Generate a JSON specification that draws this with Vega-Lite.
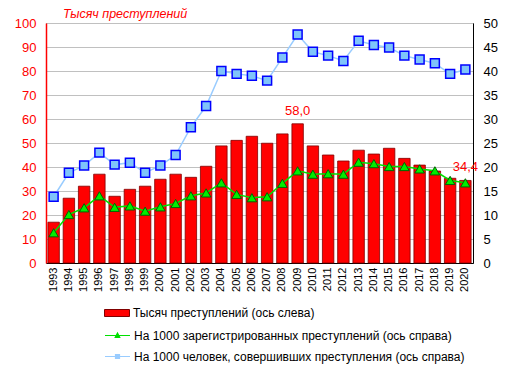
{
  "$schema": "https://vega.github.io/schema/vega-lite/v6.json",
  "autosize": "none",
  "width": 427,
  "height": 240,
  "padding": {"left": 46, "top": 23, "right": 39, "bottom": 111},
  "background": "white",
  "config": {
    "font": "Liberation Sans",
    "view": {"stroke": "#808080", "strokeWidth": 1},
    "locale": {"number": {"decimal": ",", "thousands": " ", "grouping": [3], "currency": ["", ""]}},
    "legend": {"padding": 0, "labelFont": "Liberation Sans", "labelFontSize": 12, "labelColor": "#000000", "labelOffset": 3, "labelLimit": 500}
  },
  "title": {
    "text": "Тысяч преступлений",
    "anchor": "start",
    "frame": "group",
    "dx": 17,
    "offset": -3,
    "font": "Liberation Sans",
    "fontSize": 12.5,
    "fontStyle": "italic",
    "fontWeight": "normal",
    "color": "#FF0000"
  },
  "data": {
    "values": [
      {"year": "1993", "crimes": 17.0, "per_reg": 6.3, "per_person": 13.8},
      {"year": "1994", "crimes": 27.0, "per_reg": 10.1, "per_person": 18.8},
      {"year": "1995", "crimes": 32.0, "per_reg": 11.5, "per_person": 20.3},
      {"year": "1996", "crimes": 37.0, "per_reg": 14.0, "per_person": 23.0},
      {"year": "1997", "crimes": 27.8, "per_reg": 11.6, "per_person": 20.5},
      {"year": "1998", "crimes": 30.7, "per_reg": 11.9, "per_person": 20.9},
      {"year": "1999", "crimes": 32.0, "per_reg": 10.8, "per_person": 18.8},
      {"year": "2000", "crimes": 34.9, "per_reg": 11.7, "per_person": 20.3},
      {"year": "2001", "crimes": 37.0, "per_reg": 12.4, "per_person": 22.5},
      {"year": "2002", "crimes": 35.7, "per_reg": 14.0, "per_person": 28.3},
      {"year": "2003", "crimes": 40.3, "per_reg": 14.6, "per_person": 32.7},
      {"year": "2004", "crimes": 48.8, "per_reg": 16.7, "per_person": 40.0},
      {"year": "2005", "crimes": 51.1, "per_reg": 14.3, "per_person": 39.4},
      {"year": "2006", "crimes": 52.8, "per_reg": 13.6, "per_person": 39.0},
      {"year": "2007", "crimes": 49.9, "per_reg": 13.8, "per_person": 38.0},
      {"year": "2008", "crimes": 53.8, "per_reg": 16.6, "per_person": 42.8},
      {"year": "2009", "crimes": 58.0, "per_reg": 19.2, "per_person": 47.6},
      {"year": "2010", "crimes": 48.8, "per_reg": 18.5, "per_person": 44.0},
      {"year": "2011", "crimes": 45.0, "per_reg": 18.6, "per_person": 43.2},
      {"year": "2012", "crimes": 42.5, "per_reg": 18.5, "per_person": 42.1},
      {"year": "2013", "crimes": 47.0, "per_reg": 21.0, "per_person": 46.3},
      {"year": "2014", "crimes": 45.4, "per_reg": 20.7, "per_person": 45.4},
      {"year": "2015", "crimes": 47.8, "per_reg": 20.1, "per_person": 44.9},
      {"year": "2016", "crimes": 43.6, "per_reg": 20.1, "per_person": 43.2},
      {"year": "2017", "crimes": 40.8, "per_reg": 19.6, "per_person": 42.4},
      {"year": "2018", "crimes": 38.3, "per_reg": 19.2, "per_person": 41.6},
      {"year": "2019", "crimes": 35.3, "per_reg": 17.2, "per_person": 39.4},
      {"year": "2020", "crimes": 34.4, "per_reg": 16.7, "per_person": 40.3}
    ]
  },
  "encoding": {
    "x": {
      "field": "year",
      "type": "ordinal",
      "scale": {"paddingInner": 0.25, "paddingOuter": 0.125},
      "axis": {
        "title": null,
        "labelAngle": -90,
        "labelFontSize": 11,
        "labelColor": "#000000",
        "labelPadding": 4,
        "ticks": false,
        "domainColor": "#000000",
        "domainWidth": 1
      }
    }
  },
  "layer": [
    {
      "encoding": {
        "y": {
          "field": "crimes",
          "type": "quantitative",
          "scale": {"domain": [0, 100], "nice": false},
          "axis": {
            "title": null,
            "values": [0, 10, 20, 30, 40, 50, 60, 70, 80, 90, 100],
            "labelOverlap": false,
            "labelColor": "#FF0000",
            "labelFontSize": 13,
            "labelPadding": 10,
            "ticks": false,
            "domainColor": "#FF0000",
            "domainWidth": 1.5,
            "gridColor": "#C0C0C0",
            "gridWidth": 1
          }
        }
      },
      "layer": [
        {
          "mark": {"type": "bar", "stroke": "#800000", "strokeWidth": 0.8},
          "encoding": {
            "color": {
              "datum": "Тысяч преступлений (ось слева)",
              "type": "nominal",
              "scale": {"range": ["#FF0000"]},
              "legend": {
                "title": null,
                "orient": "none",
                "legendX": 58,
                "legendY": 277,
                "symbolType": "M-1,-0.28H1V0.28H-1Z",
                "symbolSize": 625,
                "symbolStrokeColor": "#800000",
                "symbolStrokeWidth": 1,
                "symbolOpacity": 1
              }
            }
          }
        },
        {
          "transform": [{"filter": {"field": "year", "oneOf": ["2009", "2020"]}}],
          "mark": {"type": "text", "baseline": "bottom", "dy": -6, "fontSize": 13, "color": "#FF0000", "font": "Liberation Sans"},
          "encoding": {
            "text": {"field": "crimes", "type": "quantitative", "format": ".1f"}
          }
        }
      ]
    },
    {
      "layer": [
        {
          "mark": {"type": "line", "strokeWidth": 1.5},
          "encoding": {
            "y": {
              "field": "per_person",
              "type": "quantitative",
              "scale": {"domain": [0, 50], "nice": false},
              "axis": {
                "title": null,
                "orient": "right",
                "values": [0, 5, 10, 15, 20, 25, 30, 35, 40, 45, 50],
                "labelOverlap": false,
                "labelColor": "#000000",
                "labelFontSize": 13,
                "labelPadding": 10,
                "ticks": false,
                "grid": false,
                "domainColor": "#000000",
                "domainWidth": 1
              }
            },
            "color": {
              "datum": "На 1000 человек, совершивших преступления (ось справа)",
              "type": "nominal",
              "scale": {"range": ["#99CCFF"]},
              "legend": {
                "title": null,
                "orient": "none",
                "legendX": 58,
                "legendY": 320,
                "symbolType": "M-1,0H1M-0.16,-0.16H0.16V0.16H-0.16Z",
                "symbolSize": 625,
                "symbolStrokeWidth": 1.2,
                "symbolFillColor": "#99CCFF",
                "symbolStrokeColor": "#3366FF"
              }
            }
          }
        },
        {
          "mark": {"type": "point", "shape": "square", "filled": true, "size": 80, "fill": "#7FC4FA", "stroke": "#0000FF", "strokeWidth": 1.5, "opacity": 1},
          "encoding": {
            "y": {
              "field": "per_person",
              "type": "quantitative",
              "scale": {"domain": [0, 50], "nice": false},
              "axis": {
                "title": null,
                "orient": "right",
                "values": [0, 5, 10, 15, 20, 25, 30, 35, 40, 45, 50],
                "labelOverlap": false,
                "labelColor": "#000000",
                "labelFontSize": 13,
                "labelPadding": 10,
                "ticks": false,
                "grid": false,
                "domainColor": "#000000",
                "domainWidth": 1
              }
            }
          }
        },
        {
          "mark": {"type": "line", "strokeWidth": 1.5},
          "encoding": {
            "y": {
              "field": "per_reg",
              "type": "quantitative",
              "scale": {"domain": [0, 50], "nice": false},
              "axis": {
                "title": null,
                "orient": "right",
                "values": [0, 5, 10, 15, 20, 25, 30, 35, 40, 45, 50],
                "labelOverlap": false,
                "labelColor": "#000000",
                "labelFontSize": 13,
                "labelPadding": 10,
                "ticks": false,
                "grid": false,
                "domainColor": "#000000",
                "domainWidth": 1
              }
            },
            "color": {
              "datum": "На 1000 зарегистрированных преступлений (ось справа)",
              "type": "nominal",
              "scale": {"range": ["#00E000"]},
              "legend": {
                "title": null,
                "orient": "none",
                "legendX": 58,
                "legendY": 299,
                "symbolType": "M-1,0H1M-0.18,0.15L0,-0.2L0.18,0.15Z",
                "symbolSize": 625,
                "symbolStrokeWidth": 1.2,
                "symbolFillColor": "#00CC00",
                "symbolStrokeColor": "#00B000"
              }
            }
          }
        },
        {
          "mark": {"type": "point", "shape": "triangle-up", "filled": true, "size": 90, "fill": "#00EE00", "stroke": "#006400", "strokeWidth": 1, "opacity": 1},
          "encoding": {
            "y": {
              "field": "per_reg",
              "type": "quantitative",
              "scale": {"domain": [0, 50], "nice": false},
              "axis": {
                "title": null,
                "orient": "right",
                "values": [0, 5, 10, 15, 20, 25, 30, 35, 40, 45, 50],
                "labelOverlap": false,
                "labelColor": "#000000",
                "labelFontSize": 13,
                "labelPadding": 10,
                "ticks": false,
                "grid": false,
                "domainColor": "#000000",
                "domainWidth": 1
              }
            }
          }
        }
      ],
      "resolve": {"scale": {"color": "independent"}, "legend": {"color": "independent"}}
    }
  ],
  "resolve": {"scale": {"y": "independent", "color": "independent"}, "legend": {"color": "independent"}}
}
